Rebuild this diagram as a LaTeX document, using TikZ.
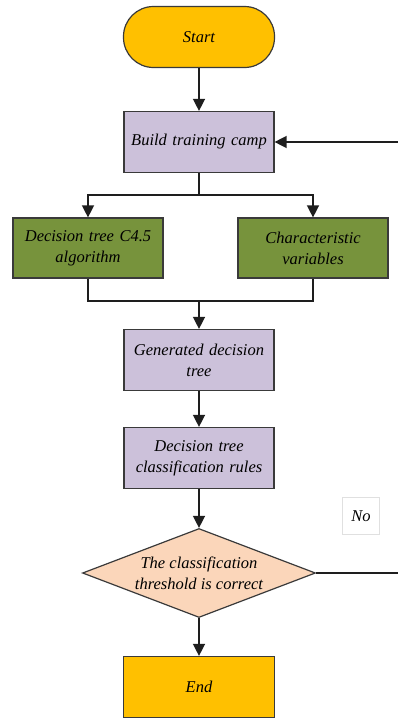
\documentclass[tikz,border=0pt]{standalone}
\usepackage{fontspec}
\setmainfont{Liberation Serif}
\usetikzlibrary{shapes.geometric,arrows.meta}

\definecolor{goldfill}{HTML}{FFC000}
\definecolor{lilac}{HTML}{CCC1DA}
\definecolor{olive}{HTML}{77933C}
\definecolor{peach}{HTML}{FBD6BA}
\definecolor{edge}{HTML}{3A3A3A}
\definecolor{wire}{HTML}{1E1E1E}

\newcommand{\labelfont}{\fontsize{16.5}{21}\selectfont\itshape}

\tikzset{
  base/.style={draw=edge, line width=1.2pt, align=center, inner sep=1pt,
    font=\labelfont},
  terminal/.style={base, fill=goldfill, minimum width=151pt, minimum height=61pt},
  procbox/.style={base, fill=lilac, minimum width=150pt, minimum height=61pt, text width=146pt},
  greenbox/.style={base, fill=olive, minimum width=150pt, minimum height=60pt, text width=146pt},
  decision/.style={diamond, draw=edge, line width=1.2pt, fill=peach, inner sep=0pt,
    minimum width=233pt, minimum height=89pt},
  tag/.style={draw=black!12, line width=0.8pt, fill=white, minimum width=37pt,
    minimum height=37pt, inner sep=0pt, font=\labelfont},
  flow/.style={draw=wire, line width=1.4pt, -{Triangle[width=12pt,length=12pt]}},
  link/.style={draw=wire, line width=1.4pt},
}

\begin{document}
\begin{tikzpicture}[x=1pt, y=-1pt]
\useasboundingbox (0,0) rectangle (398,720);

% main column
\node[terminal, rounded corners=30pt] (start) at (199,37) {Start};
\node[procbox] (build) at (199,142) {Build training camp};
\node[greenbox] (algo) at (88,248) {Decision tree C4.5\\algorithm};
\node[greenbox] (vars) at (313,248) {Characteristic\\variables};
\node[procbox] (gen) at (199,360) {Generated decision\\tree};
\node[procbox] (rules) at (199,458) {Decision tree\\classification rules};
\node[decision] (check) at (199,573) {};
\node[font=\labelfont, align=center, inner sep=0pt] (checktext) at (199,573)
  {The classification\\threshold is correct};
\node[terminal] (stop) at (199,687) {End};
\node[tag] (no) at (361,516) {No};

% junction points
\coordinate (split) at (199,195);
\coordinate (merge) at (199,301);
\coordinate (loopin) at (398,142);
\coordinate (loopout) at (398,573);

% connectors
\draw[flow] (start) -- (build);
\draw[link] (build) -- (split);
\draw[flow] (split) -| (algo);
\draw[flow] (split) -| (vars);
\draw[link] (algo) |- (merge);
\draw[link] (vars) |- (merge);
\draw[flow] (merge) -- (gen);
\draw[flow] (gen) -- (rules);
\draw[flow] (rules) -- (check);
\draw[flow] (check) -- (stop);
\draw[link] (check.east) -- (loopout);
\draw[flow] (loopin) -- (build);
\end{tikzpicture}
\end{document}
